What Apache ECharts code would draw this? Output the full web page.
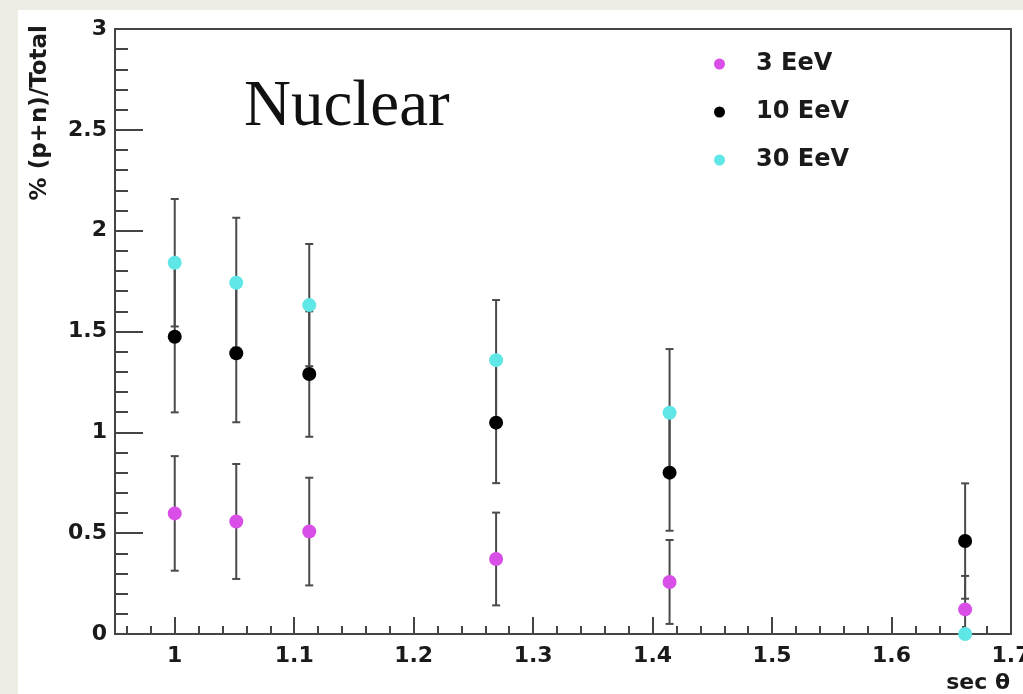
<!DOCTYPE html>
<html>
<head>
<meta charset="utf-8">
<script src="https://cdn.jsdelivr.net/npm/echarts@6/dist/echarts.min.js"></script>
<style>
html,body{margin:0;padding:0;background:#eeeae4;}
#chart{width:1023px;height:694px;}
</style>
</head>
<body>
<div id="chart"></div>
<script>
// sec(theta) positions
var secTheta = [1.0, 1.0515, 1.1126, 1.2690, 1.4142, 1.6616];
var seriesNames = ['3 EeV', '10 EeV', '30 EeV'];
var val3 = [0.598, 0.558, 0.508, 0.372, 0.258, 0.122];
var err3 = [0.284, 0.285, 0.267, 0.230, 0.208, 0.166];
var val10 = [1.474, 1.392, 1.289, 1.048, 0.800, 0.461];
var err10 = [0.375, 0.342, 0.311, 0.300, 0.288, 0.286];
var val30 = [1.841, 1.742, 1.631, 1.358, 1.097, 0.000];
var err30 = [0.316, 0.322, 0.303, 0.298, 0.316, 0.000];
var xMajorTicks = [1.0, 1.1, 1.2, 1.3, 1.4, 1.5, 1.6, 1.7];
var yTicks = [0, 0.5, 1, 1.5, 2, 2.5, 3];

var colors = ['#d84ee6', '#000000', '#5fe6e6'];
var vals = [val3, val10, val30];
var errs = [err3, err10, err30];

var xMinor = [];
for (var i = 48; i <= 85; i++) { if (i % 5 !== 0) xMinor.push(Math.round(i * 2) / 100); }

var series = [];
vals.forEach(function (v, si) {
  var d = secTheta.map(function (x, k) { return [x, Math.max(0, v[k] - errs[si][k]), v[k] + errs[si][k]]; });
  series.push({
    type: 'custom', name: seriesNames[si] + ' err', silent: true, clip: false, z: 2,
    data: d,
    renderItem: function (params, api) {
      var x = api.value(0), lo = api.value(1), hi = api.value(2);
      if (hi - lo <= 0) return null;
      var p1 = api.coord([x, hi]), p2 = api.coord([x, lo]);
      var cw = 4;
      var st = {stroke: '#4a4a4a', lineWidth: 2};
      var children = [{type: 'line', shape: {x1: p1[0], y1: p1[1], x2: p2[0], y2: p2[1]}, style: st}];
      children.push({type: 'line', shape: {x1: p1[0] - cw, y1: p1[1], x2: p1[0] + cw, y2: p1[1]}, style: st});
      if (lo > 0) children.push({type: 'line', shape: {x1: p2[0] - cw, y1: p2[1], x2: p2[0] + cw, y2: p2[1]}, style: st});
      return {type: 'group', children: children};
    }
  });
});
vals.forEach(function (v, si) {
  series.push({
    type: 'scatter', name: seriesNames[si], clip: false, z: 5,
    symbol: 'circle', symbolSize: 14,
    itemStyle: {color: colors[si], opacity: 1},
    data: secTheta.map(function (x, k) { return [x, v[k]]; })
  });
});

var chart = echarts.init(document.getElementById('chart'), null, {renderer: 'canvas'});
chart.setOption({
  animation: false,
  backgroundColor: '#eeeae4',
  color: colors,
  grid: {left: 115, right: 12, top: 29, bottom: 60, outerBoundsMode: 'none', containLabel: false, show: true, borderColor: '#444', borderWidth: 2, backgroundColor: '#ffffff'},
  graphic: [
    {type: 'rect', z: -10, silent: true, shape: {x: 18, y: 10, width: 1005, height: 684}, style: {fill: '#ffffff'}},
    {type: 'text', z: 10, x: 244, y: 108, style: {text: 'Nuclear', font: '65px "Liberation Serif"', fill: '#111', verticalAlign: 'middle'}},
    {type: 'text', z: 10, x: 40, y: 25, rotation: Math.PI / 2, style: {text: '% (p+n)/Total', font: 'bold 23px "DejaVu Sans"', fill: '#1a1a1a', align: 'right', verticalAlign: 'middle'}},
    {type: 'text', z: 10, x: 1010, y: 683, style: {text: 'sec \u03b8', font: 'bold 22px "DejaVu Sans"', fill: '#1a1a1a', align: 'right', verticalAlign: 'middle'}}
  ],
  legend: {
    show: true, orient: 'vertical', left: 709, top: 47,
    data: seriesNames,
    icon: 'circle', itemWidth: 11, itemHeight: 11, itemGap: 24,
    textStyle: {fontFamily: 'DejaVu Sans', fontWeight: 'bold', fontSize: 24, color: '#1a1a1a', padding: [0, 0, 0, 26], lineHeight: 24}
  },
  xAxis: [
    {
      type: 'value', min: 0.95, max: 1.7, position: 'bottom',
      axisLine: {show: true, onZero: false, lineStyle: {color: '#444', width: 2}},
      axisTick: {show: true, inside: true, length: 17, customValues: xMajorTicks, lineStyle: {color: '#444', width: 2}},
      axisLabel: {show: true, customValues: xMajorTicks, margin: 11, showMaxLabel: true, showMinLabel: true, hideOverlap: false, fontFamily: 'DejaVu Sans', fontWeight: 'bold', fontSize: 22, color: '#1a1a1a', formatter: function (v) { return String(Math.round(v * 10) / 10); }},
      splitLine: {show: false}
    },
    {
      type: 'value', min: 0.95, max: 1.7, position: 'bottom',
      axisLine: {show: false},
      axisTick: {show: true, inside: true, length: 8, customValues: xMinor, lineStyle: {color: '#444', width: 2}},
      axisLabel: {show: false},
      splitLine: {show: false}
    }
  ],
  yAxis: {
    type: 'value', min: 0, max: 3, interval: 0.5,
    axisLine: {show: true, onZero: false, lineStyle: {color: '#444', width: 2}},
    axisTick: {show: true, inside: true, length: 28, lineStyle: {color: '#444', width: 2}},
    minorTick: {show: true, splitNumber: 5, length: 13, lineStyle: {color: '#444', width: 2}},
    axisLabel: {margin: 8, fontFamily: 'DejaVu Sans', fontWeight: 'bold', fontSize: 22, color: '#1a1a1a', formatter: function (v) { return yTicks.indexOf(v) >= 0 ? String(v) : ''; }},
    splitLine: {show: false}
  },
  series: series
});
</script>
</body>
</html>
